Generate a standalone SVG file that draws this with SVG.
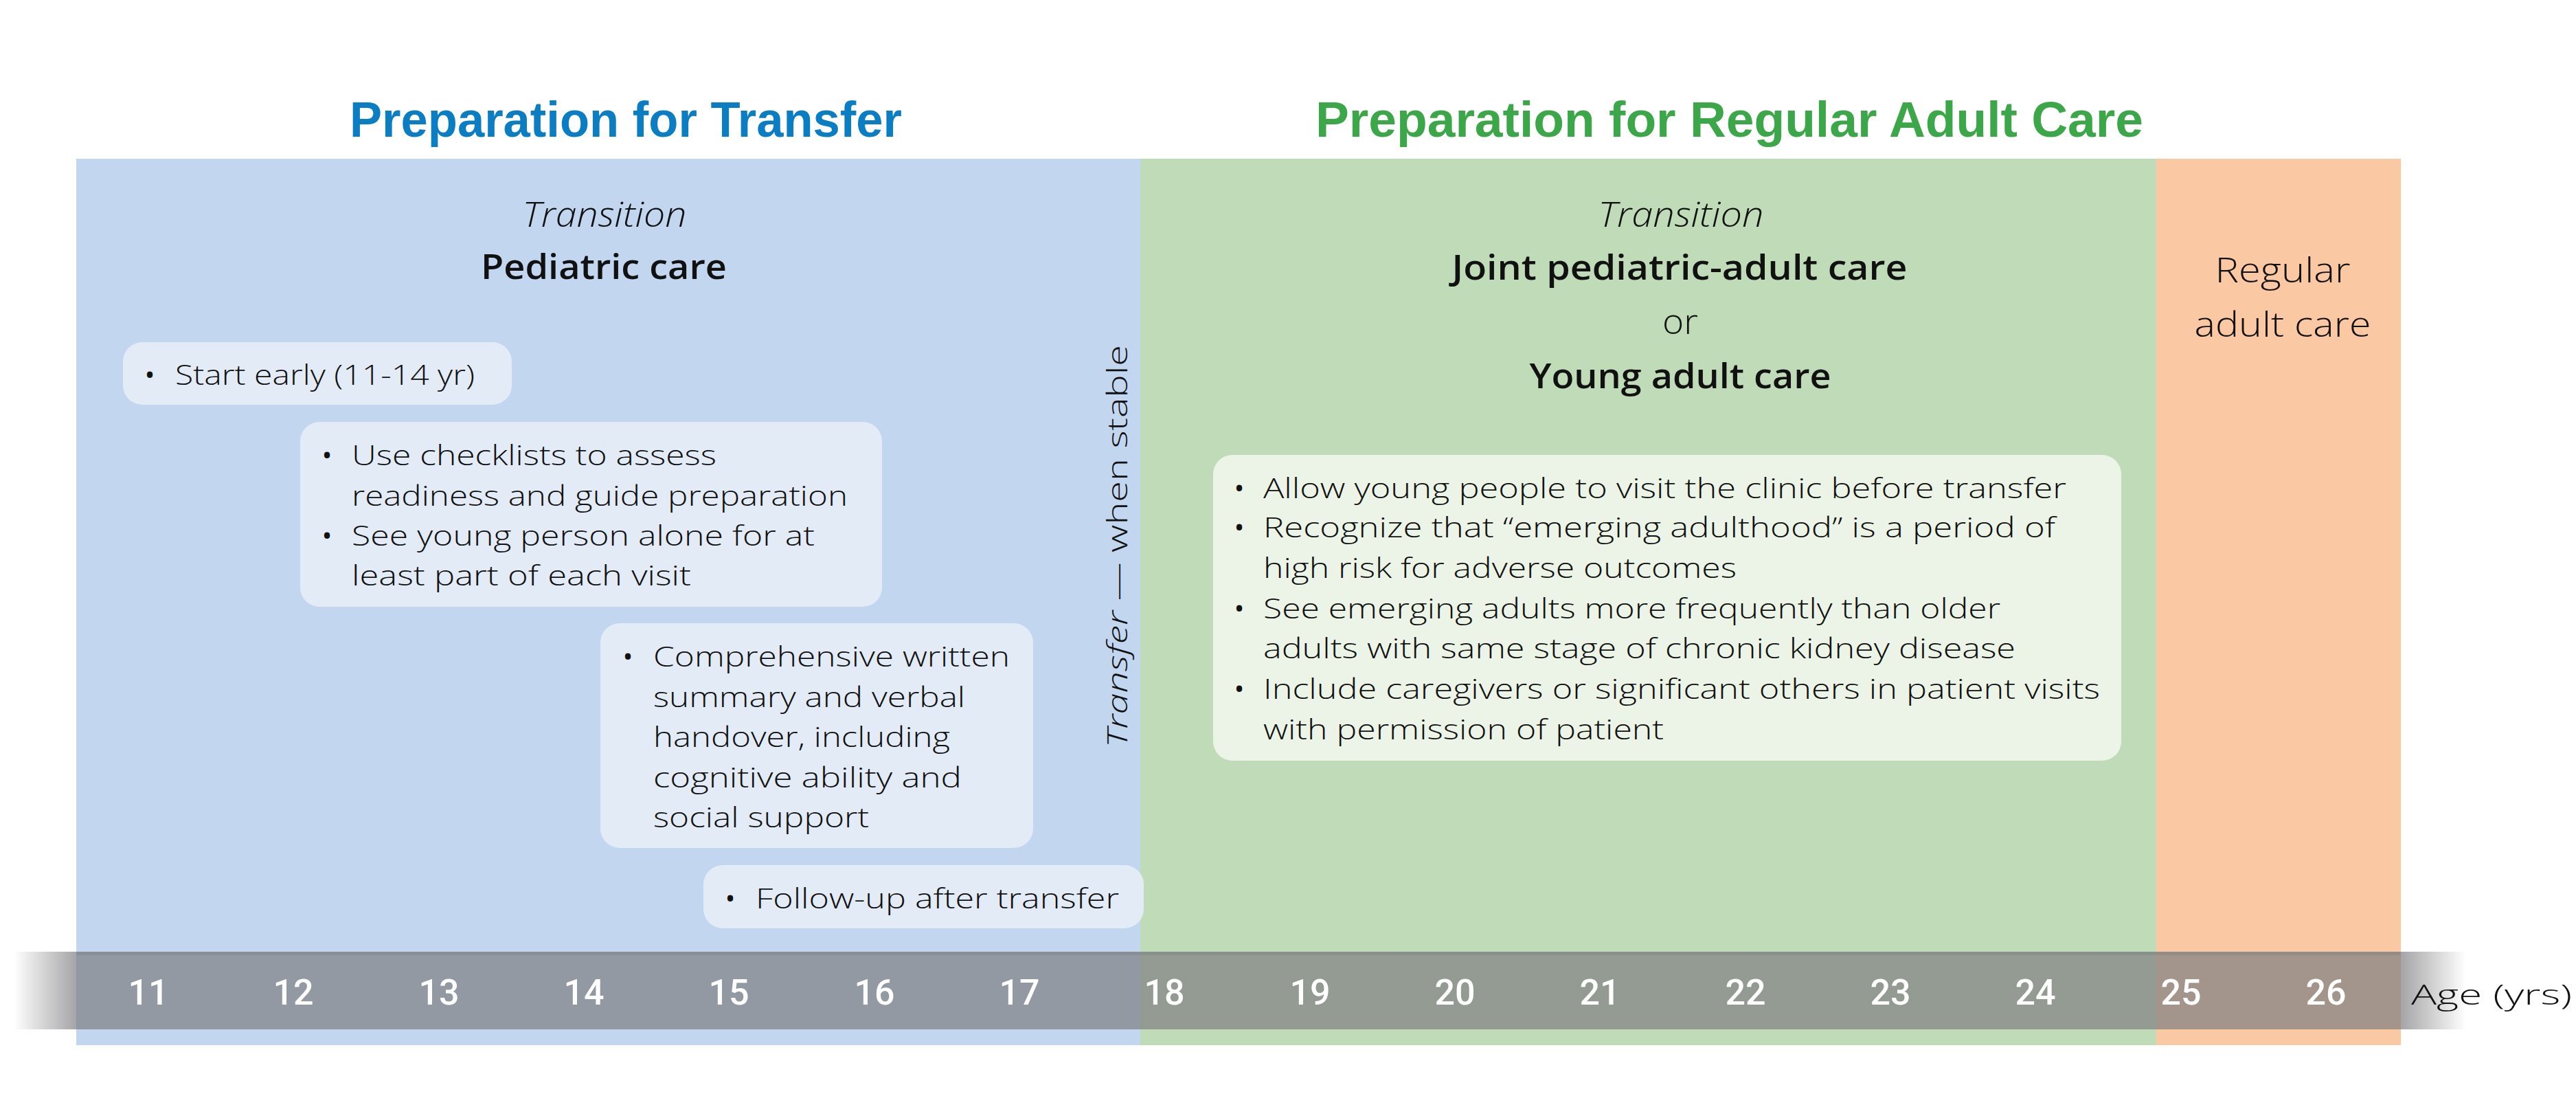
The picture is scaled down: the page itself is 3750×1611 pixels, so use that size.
<svg xmlns="http://www.w3.org/2000/svg" width="3750" height="1611" viewBox="0 0 3750 1611">
<defs>
<style>
.title{font-family:"Liberation Sans",Arial,sans-serif;font-weight:700;font-size:73px}
.hdr{font-family:"Open Sans","Liberation Sans",sans-serif;font-size:50px;fill:#111;text-anchor:middle}
.it{font-style:italic;font-weight:300}
.bd{font-weight:600}
.lt{font-weight:300}
.body{font-family:"Open Sans","Liberation Sans",sans-serif;font-weight:300;font-size:41px;fill:#111}
.bul{font-family:"Open Sans","Liberation Sans",sans-serif;font-size:40px;fill:#111;text-anchor:middle}
.num{font-family:Roboto,"Liberation Sans",sans-serif;font-weight:500;font-size:52px;fill:#fff;text-anchor:middle}
.boxb{fill:#e3ebf7}
.boxg{fill:#ebf4e7}
</style>
<linearGradient id="barg" gradientUnits="userSpaceOnUse" x1="20" y1="0" x2="3590" y2="0">
<stop offset="0" stop-color="#7f7f82" stop-opacity="0"/>
<stop offset="0.0255" stop-color="#7f7f82" stop-opacity="0.7"/>
<stop offset="0.9735" stop-color="#7f7f82" stop-opacity="0.7"/>
<stop offset="1" stop-color="#7f7f82" stop-opacity="0"/>
</linearGradient>
</defs>
<rect width="3750" height="1611" fill="#fff"/>
<g id="panels">
<rect x="111" y="231" width="1549" height="1290" fill="#c2d6ef"/>
<rect x="1660" y="231" width="1479" height="1290" fill="#c0dbb7"/>
<rect x="3139" y="231" width="356" height="1290" fill="#fac8a2"/>
</g>
<g id="titles">
<text class="title" x="509" y="199" fill="#0b7ec3" textLength="804" lengthAdjust="spacingAndGlyphs">Preparation for Transfer</text>
<text class="title" x="1915" y="199" fill="#3ba748" textLength="1205" lengthAdjust="spacingAndGlyphs">Preparation for Regular Adult Care</text>
</g>
<g id="headers">
<text class="hdr it" x="880" y="330" textLength="239" lengthAdjust="spacingAndGlyphs">Transition</text>
<text class="hdr bd" x="879" y="406" textLength="358" lengthAdjust="spacingAndGlyphs">Pediatric care</text>
<text class="hdr it" x="2447" y="330" textLength="241" lengthAdjust="spacingAndGlyphs">Transition</text>
<text class="hdr bd" x="2445" y="407" textLength="663" lengthAdjust="spacingAndGlyphs">Joint pediatric-adult care</text>
<text class="hdr lt" x="2446" y="486" textLength="52" lengthAdjust="spacingAndGlyphs">or</text>
<text class="hdr bd" x="2446" y="565" textLength="439" lengthAdjust="spacingAndGlyphs">Young adult care</text>
<text class="hdr lt" x="3323" y="411" textLength="197" lengthAdjust="spacingAndGlyphs">Regular</text>
<text class="hdr lt" x="3323" y="490" textLength="257" lengthAdjust="spacingAndGlyphs">adult care</text>
</g>
<g id="box1">
<rect class="boxb" x="179" y="498" width="566" height="91" rx="28"/>
<text class="bul" x="218" y="560">•</text>
<text class="body" x="255" y="560" textLength="436" lengthAdjust="spacingAndGlyphs">Start early (11-14 yr)</text>
</g>
<g id="box2">
<rect class="boxb" x="437" y="614" width="847" height="269" rx="28"/>
<text class="bul" x="476" y="677">•</text>
<text class="body" x="512" y="677" textLength="531" lengthAdjust="spacingAndGlyphs">Use checklists to assess</text>
<text class="body" x="512" y="736" textLength="722" lengthAdjust="spacingAndGlyphs">readiness and guide preparation</text>
<text class="bul" x="476" y="794">•</text>
<text class="body" x="512" y="794" textLength="674" lengthAdjust="spacingAndGlyphs">See young person alone for at</text>
<text class="body" x="512" y="852" textLength="494" lengthAdjust="spacingAndGlyphs">least part of each visit</text>
</g>
<g id="box3">
<rect class="boxb" x="874" y="907" width="630" height="327" rx="28"/>
<text class="bul" x="914" y="970">•</text>
<text class="body" x="951" y="970" textLength="519" lengthAdjust="spacingAndGlyphs">Comprehensive written</text>
<text class="body" x="951" y="1029" textLength="454" lengthAdjust="spacingAndGlyphs">summary and verbal</text>
<text class="body" x="951" y="1087" textLength="432" lengthAdjust="spacingAndGlyphs">handover, including</text>
<text class="body" x="951" y="1146" textLength="449" lengthAdjust="spacingAndGlyphs">cognitive ability and</text>
<text class="body" x="951" y="1204" textLength="314" lengthAdjust="spacingAndGlyphs">social support</text>
</g>
<g id="box4">
<rect class="boxb" x="1024" y="1259" width="641" height="92" rx="28"/>
<text class="bul" x="1063" y="1322">•</text>
<text class="body" x="1100" y="1322" textLength="529" lengthAdjust="spacingAndGlyphs">Follow-up after transfer</text>
</g>
<g id="box5">
<rect class="boxg" x="1766" y="662" width="1322" height="445" rx="28"/>
<text class="bul" x="1804" y="725">•</text>
<text class="body" x="1839" y="725" textLength="1169" lengthAdjust="spacingAndGlyphs">Allow young people to visit the clinic before transfer</text>
<text class="bul" x="1804" y="782">•</text>
<text class="body" x="1839" y="782" textLength="1153" lengthAdjust="spacingAndGlyphs">Recognize that “emerging adulthood” is a period of</text>
<text class="body" x="1839" y="841" textLength="689" lengthAdjust="spacingAndGlyphs">high risk for adverse outcomes</text>
<text class="bul" x="1804" y="900">•</text>
<text class="body" x="1839" y="900" textLength="1073" lengthAdjust="spacingAndGlyphs">See emerging adults more frequently than older</text>
<text class="body" x="1839" y="958" textLength="1095" lengthAdjust="spacingAndGlyphs">adults with same stage of chronic kidney disease</text>
<text class="bul" x="1804" y="1017">•</text>
<text class="body" x="1839" y="1017" textLength="1218" lengthAdjust="spacingAndGlyphs">Include caregivers or significant others in patient visits</text>
<text class="body" x="1839" y="1076" textLength="583" lengthAdjust="spacingAndGlyphs">with permission of patient</text>
</g>
<g id="transfer-label">
<text class="body" font-size="48" text-anchor="middle" transform="translate(1641,795) rotate(-90)" textLength="586" lengthAdjust="spacingAndGlyphs"><tspan font-style="italic">Transfer</tspan> — when stable</text>
</g>
<g id="age-axis">
<rect x="20" y="1385" width="3570" height="113" fill="url(#barg)"/>
<rect x="111" y="1385" width="3384" height="5" fill="#7a7a7d" opacity="0.35"/>
<text class="num" x="216" y="1462">11</text>
<text class="num" x="427" y="1462">12</text>
<text class="num" x="639" y="1462">13</text>
<text class="num" x="850" y="1462">14</text>
<text class="num" x="1061" y="1462">15</text>
<text class="num" x="1273" y="1462">16</text>
<text class="num" x="1484" y="1462">17</text>
<text class="num" x="1695" y="1462">18</text>
<text class="num" x="1907" y="1462">19</text>
<text class="num" x="2118" y="1462">20</text>
<text class="num" x="2329" y="1462">21</text>
<text class="num" x="2541" y="1462">22</text>
<text class="num" x="2752" y="1462">23</text>
<text class="num" x="2963" y="1462">24</text>
<text class="num" x="3175" y="1462">25</text>
<text class="num" x="3386" y="1462">26</text>
<text class="body" x="3510" y="1462" font-size="52" fill="#333" textLength="234" lengthAdjust="spacingAndGlyphs">Age (yrs)</text>
</g>
</svg>
